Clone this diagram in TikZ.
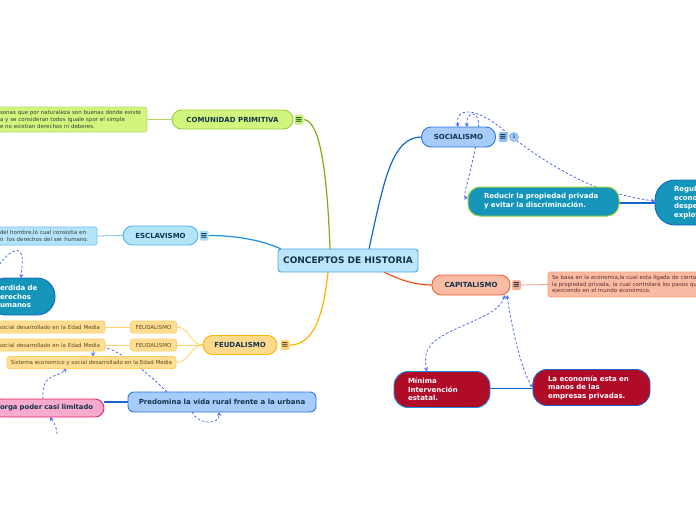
\documentclass[tikz,border=0pt]{standalone}
\usepackage{fontspec}
\setmainfont{DejaVu Sans}
\usetikzlibrary{arrows.meta,calc}
\pgfdeclarelayer{bg}
\pgfsetlayers{bg,main}
\definecolor{ink}{HTML}{12344D}
\definecolor{gfill}{HTML}{D2F57E}
\definecolor{gline}{HTML}{9CCB3B}
\definecolor{gconn}{HTML}{7DB00E}
\definecolor{bfill}{HTML}{B3E4FA}
\definecolor{bline}{HTML}{4FB3E8}
\definecolor{bconn}{HTML}{1A8FE0}
\definecolor{ofill}{HTML}{FFD98C}
\definecolor{oline}{HTML}{FFB300}
\definecolor{osfill}{HTML}{FFDD93}
\definecolor{osline}{HTML}{FFCF66}
\definecolor{otext}{HTML}{5B4A1F}
\definecolor{sfill}{HTML}{A7CBFA}
\definecolor{sline}{HTML}{2A78DE}
\definecolor{sconn}{HTML}{1565C8}
\definecolor{cfill}{HTML}{F9BBA3}
\definecolor{cline}{HTML}{F0602E}
\definecolor{cconn}{HTML}{F4511E}
\definecolor{cdet}{HTML}{F6A080}
\definecolor{teal}{HTML}{1595BA}
\definecolor{crim}{HTML}{B00C28}
\definecolor{pfill}{HTML}{F8AACF}
\definecolor{pline}{HTML}{E8216E}
\definecolor{dsh}{HTML}{4C6EF2}
\definecolor{ctrfill}{HTML}{BCE5FA}
\definecolor{ctrline}{HTML}{4AA5DF}
\definecolor{dtext}{HTML}{3A3A3A}
\begin{document}
\begin{tikzpicture}[x=1pt,y=-1pt,
  base/.style={draw, line width=0.9pt, inner xsep=0pt, inner ysep=0pt, outer sep=0pt},
  topic/.style={base, rounded corners=9.5pt, minimum height=19pt, text=ink,
    font=\fontsize{7}{8}\selectfont\bfseries},
  detail/.style={base, line width=0.7pt, rounded corners=2.5pt, align=left,
    font=\fontsize{5.5}{6.6}\selectfont},
  bignode/.style={base, align=left, text=white, font=\fontsize{7}{8.5}\selectfont\bfseries},
  icon/.style={draw=none, rounded corners=1.5pt, minimum width=9pt, minimum height=10pt, inner sep=0pt,
    font=\fontsize{8.5}{8.5}\selectfont\bfseries},
  conn/.style={line width=1.2pt},
  thin/.style={line width=0.8pt},
  dashedlink/.style={dsh, line width=0.8pt, dash pattern=on 2.5pt off 2pt,
    {Stealth[length=4pt,width=4pt]}-{Stealth[length=4pt,width=4pt]}},
  dashedto/.style={dsh, line width=0.8pt, dash pattern=on 2.5pt off 2pt,
    -{Stealth[length=4pt,width=4pt]}}
]
\useasboundingbox (0,0) rectangle (696,520);
\clip (0,0) rectangle (696,520);

% central
\node[base, rounded corners=3pt, fill=ctrfill, draw=ctrline, minimum width=140pt,
  minimum height=23pt, text=ink, font=\fontsize{9}{10}\selectfont\bfseries]
  (ctr) at (348,260.5) {CONCEPTOS DE HISTORIA};

% comunidad primitiva
\node[topic, fill=gfill, draw=gline, minimum width=121pt] (com) at (232.5,119.5) {COMUNIDAD PRIMITIVA};
\node[icon, fill=gfill!85!gline, text=ink!60!green!70!black] (comi) at (299,119.5) {≡};
\node[detail, fill=gfill, draw=gline!70, inner xsep=4pt, text width=143pt,
  minimum width=151pt, minimum height=25pt, text=dtext] (comd) at (71.5,119.5)
  {sonas que por naturaleza son buenas donde existe\\a y se consideran todos iguale spor el simple\\e no existian derechos ni deberes.};

% esclavismo
\node[topic, fill=bfill, draw=bline, minimum width=75pt] (esc) at (160.5,235.5) {ESCLAVISMO};
\node[icon, fill=bfill!85!bline, text=ink] (esci) at (204,235.5) {≡};
\node[detail, fill=bfill, draw=bline!80, inner xsep=4pt, text width=93pt,
  minimum width=101pt, minimum height=18pt, text=dtext] (escd) at (46.5,236)
  {del hombre,lo cual consistia en\\n~ los derechos del ser humano.};

% perdida de derechos humanos
\node[bignode, fill=teal, draw=sconn, rounded corners=18pt, inner xsep=12pt,
  text width=43pt, minimum width=67pt, minimum height=37pt,
  font=\fontsize{7}{8.3}\selectfont\bfseries] (pd) at (21.5,296.5)
  {erdida de\\erechos\\umanos};

% feudalismo
\node[topic, fill=ofill, draw=oline, minimum width=74pt] (feu) at (240,345) {FEUDALISMO};
\node[icon, fill=ofill!85!oline, text=otext] (feui) at (285,345) {≡};
\node[detail, fill=osfill, draw=osline, align=center, minimum width=46pt,
  minimum height=12pt, text=otext] (f1) at (153.5,327) {FEUDALISMO};
\node[detail, fill=osfill, draw=osline, align=center, minimum width=46pt,
  minimum height=12pt, text=otext] (f2) at (153.5,345) {FEUDALISMO};
\node[detail, fill=osfill, draw=osline, align=center, minimum width=169pt,
  minimum height=12pt, text=otext] (f3) at (91.5,362.5)
  {Sistema economico y social desarrollado en la Edad Media};
\node[detail, fill=osfill, draw=osline, inner xsep=3pt, text width=103pt,
  minimum width=109pt, minimum height=12pt, text=otext] (f1d) at (50.5,327)
  {social desarrollado en la Edad Media};
\node[detail, fill=osfill, draw=osline, inner xsep=3pt, text width=103pt,
  minimum width=109pt, minimum height=12pt, text=otext] (f2d) at (50.5,345)
  {social desarrollado en la Edad Media};

% predomina / pink
\node[base, rounded corners=6pt, fill=sfill, draw=sline, minimum width=188pt,
  minimum height=20pt, text=ink, font=\fontsize{7}{8}\selectfont\bfseries]
  (pred) at (222,402) {Predomina la vida rural frente a la urbana};
\node[base, rounded corners=9pt, fill=pfill, draw=pline, inner xsep=8pt,
  text width=96pt, minimum width=112pt, minimum height=18pt, align=left, text=ink,
  font=\fontsize{6.8}{8}\selectfont\bfseries] (pink) at (48,408)
  {orga poder casi limitado};

% socialismo
\node[topic, fill=sfill, draw=sline, minimum width=74pt, minimum height=20pt] (soc) at (458.5,137) {SOCIALISMO};
\node[icon, fill=sfill!85!sline, text=ink] (soci) at (503,137) {≡};
\node[circle, fill=sfill, draw=sline!60, line width=0.6pt, minimum size=9pt,
  inner sep=0pt, text=sline!80!black, font=\fontsize{5}{5}\selectfont\bfseries] (badge) at (514,137) {1};
\node[bignode, fill=teal, draw=gline, line width=1pt, rounded corners=12pt,
  inner xsep=16pt, text width=119pt, minimum width=151pt, minimum height=29pt,
  font=\fontsize{7}{9}\selectfont\bfseries] (red) at (543.5,201.5)
  {Reducir la propiedad privada\\y evitar la discriminación.};
\node[bignode, fill=teal, draw=sconn, rounded corners=20pt, inner xsep=19pt,
  text width=62pt, minimum width=100pt, minimum height=45pt,
  font=\fontsize{7}{8.7}\selectfont\bfseries] (reg) at (705,202.5)
  {Regul\\econo\\despe\\explot};

% capitalismo
\node[topic, fill=cfill, draw=cline, minimum width=78pt, minimum height=20pt] (cap) at (471,285) {CAPITALISMO};
\node[icon, fill=cfill!85!cline, text=ink] (capi) at (516.5,285) {≡};
\node[detail, fill=cfill, draw=cdet, inner xsep=4pt, text width=194pt,
  minimum width=202pt, minimum height=25pt, text=dtext!80!red] (capd) at (649,284.5)
  {Se basa en la economía,la cual esta ligada de cierta\\la propiedad privada, la cual controlará los pasos qu\\ejerciendo en el mundo económico.};
\node[bignode, fill=crim, draw=bconn, rounded corners=14pt, inner xsep=14pt,
  text width=68pt, minimum width=96pt, minimum height=36pt] (min) at (442,389.5)
  {Mínima\\Intervención\\estatal.};
\node[bignode, fill=crim, draw=sconn, rounded corners=14pt, inner xsep=15pt,
  text width=87pt, minimum width=117pt, minimum height=36pt] (eco) at (591.5,387.5)
  {La economía esta en\\manos de las\\empresas privadas.};

\coordinate (pls) at (-3,268);
\coordinate (d4s) at (57,434);

\begin{pgfonlayer}{bg}
  % main branches
  \draw[conn, gconn] ([xshift=-18pt]ctr.north) .. controls (327,170) and (320,121) .. (comi.east);
  \draw[conn, bconn] ([xshift=3pt]ctr.north west) .. controls (262,240) and (235,235.5) .. (esci.east);
  \draw[conn, oline] ([xshift=-20pt]ctr.south) .. controls (323,320) and (312,345) .. (feui.east);
  \draw[conn, sconn] ([xshift=21pt]ctr.north) .. controls (384,180) and (392,137) .. (soc.west);
  \draw[conn, cconn] ([xshift=36pt]ctr.south) .. controls (400,280) and (415,285) .. (cap.west);
  % details
  \draw[thin, gline!80] (comd.east) -- (com.west);
  \draw[thin, bline!80] (escd.east) -- (esc.west);
  \draw[thin, cdet] (capi.east) -- (capd.west);
  \draw[thin, osline] (feu.west) .. controls (190,345) and (190,327) .. (f1.east);
  \draw[thin, osline] (feu.west) -- (f2.east);
  \draw[thin, osline] (feu.west) .. controls (190,345) and (190,362.5) .. (f3.east);
  \draw[thin, osline] (f1.west) -- (f1d.east);
  \draw[thin, osline] (f2.west) -- (f2d.east);
  % solid links
  \draw[conn, sconn] ([yshift=-1.5pt]red.east) -- ([yshift=-1.5pt]red.east -| reg.west);
  \draw[conn, sconn] (pred.west) -- (pred.west -| pink.east);
  \draw[conn, sconn] ([yshift=1pt]min.east) -- ([yshift=1pt]min.east -| eco.west);
  % dashed links
  \draw[dashedto] (pls) .. controls (6,254) and (15,249) .. (19,251) .. controls (24,254) and (22,266) .. ([xshift=-0.5pt]pd.north);
  \draw[dashedto] ([xshift=-55pt]pred.north) .. controls (130,355) and (93,335) .. ([xshift=1.5pt]f3.north);
  \draw[dashedto] ([xshift=-5pt]pink.north) .. controls (41,372) and (58,378) .. ([xshift=-25pt]f3.south);
  \draw[dashedto] ([xshift=-30pt]pred.south) .. controls (198,425) and (220,425) .. ([xshift=-3pt]pred.south);
  \draw[dashedto] (d4s) .. controls (56,426) .. ([xshift=2pt]pink.south);
  \draw[dashedto] ([xshift=17pt]soc.south) .. controls (469,180) and (462,198) .. ([yshift=4pt]red.west);
  \draw[dashedto] ([xshift=20pt]soc.north) .. controls (480,110) and (466,110) .. ([xshift=8.5pt]soc.north);
  \draw[dashedlink] ([xshift=-0.5pt]soc.north) .. controls (455,104) and (482,110) .. (507,133)
     .. controls (540,160) and (585,186) .. (615,193) .. controls (630,197) and (645,200) .. ([yshift=1.5pt]reg.west);
  \draw[dashedlink] ([xshift=34pt]cap.south) .. controls (497,322) and (430,328) .. (426,355)
     .. controls (425,363) and (426,368) .. ([xshift=-15pt]min.north);
  \draw[dashedlink] ([xshift=36pt]cap.south) .. controls (512,330) and (522,372) .. (eco.west);
\end{pgfonlayer}
\end{tikzpicture}
\end{document}
